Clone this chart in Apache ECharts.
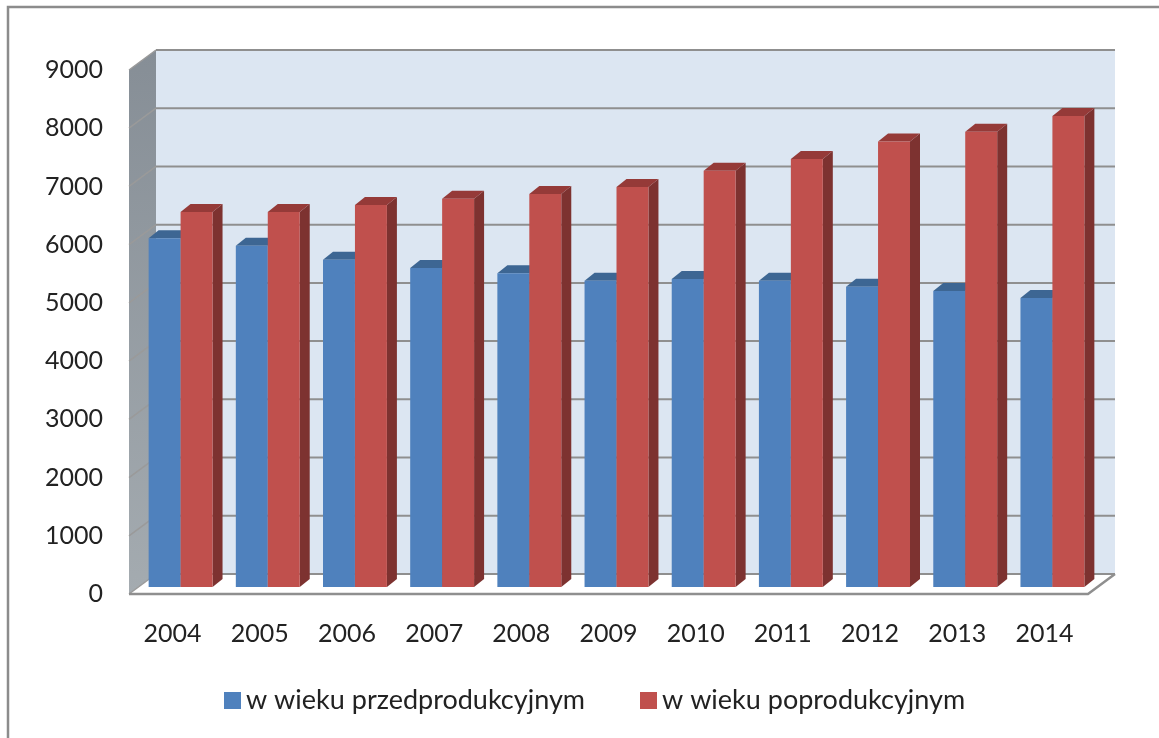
<!DOCTYPE html>
<html><head><meta charset="utf-8">
<style>html,body{margin:0;padding:0;background:#fff}#c{width:1159px;height:738px;filter:blur(0.5px)}</style>
<script src="https://cdn.jsdelivr.net/npm/echarts@6/dist/echarts.min.js"></script>
</head><body><div id="c"></div>
<script>
const categories = ['2004','2005','2006','2007','2008','2009','2010','2011','2012','2013','2014'];
const preWorking = [5990,5860,5620,5480,5390,5260,5290,5260,5155,5085,4965];
const postWorking = [6440,6440,6560,6670,6750,6870,7150,7350,7650,7820,8090];
const ticks = [0,1000,2000,3000,4000,5000,6000,7000,8000,9000];
const nameA = 'w wieku przedprodukcyjnym', nameB = 'w wieku poprodukcyjnym';

const DX = 27, DY = -20;          // wall depth
const BX = 8, BY = -7;            // bar plane depth
const SX = 10, SY = -8;           // bar own depth
const gridC = '#8f8f8f';

function wall(params, api){
  const v = api.value(0);
  const cs = params.coordSys;
  const x0 = cs.x, x1 = cs.x + cs.width;
  const y = api.coord([0, v])[1];
  const ch = [];
  if (v === 0) {
    ch.push({type:'polygon',shape:{points:[[x0+DX,cs.y+DY],[x1+DX,cs.y+DY],[x1+DX,y+DY],[x0+DX,y+DY]]},style:{fill:'#dce6f2'}});
    ch.push({type:'polygon',shape:{points:[[x0,cs.y],[x0+DX,cs.y+DY],[x0+DX,y+DY],[x0,y]]},
      style:{fill:{type:'linear',x:0,y:0,x2:0,y2:1,colorStops:[{offset:0,color:'#868e96'},{offset:1,color:'#a4abb0'}]}}});
    ch.push({type:'polygon',shape:{points:[[x0,y],[x0+DX,y+DY],[x1+DX,y+DY],[x1,y]]},style:{fill:'#ffffff'}});
  }
  ch.push({type:'line',shape:{x1:x0,y1:y,x2:x0+DX,y2:y+DY},style:{stroke:'#9a9a9a',lineWidth:1.5}});
  ch.push({type:'line',shape:{x1:x0+DX,y1:y+DY,x2:x1+DX,y2:y+DY},style:{stroke:gridC,lineWidth:2}});
  if (v === 0) {
    ch.push({type:'polyline',shape:{points:[[x0,y],[x1,y],[x1+DX,y+DY]]},style:{stroke:gridC,lineWidth:2.5,fill:null}});
  }
  return {type:'group',children:ch};
}

function bar(front, top, side, dir){
  return function(params, api){
    const c = api.coord([api.value(0), api.value(1)]);
    const base = api.coord([api.value(0), 0])[1];
    const w = api.size([1,0])[0] * 0.3665;
    const cx = c[0] + BX;
    const l = dir < 0 ? cx - w : cx, r = l + w;
    const t = c[1] + BY, b = base + BY;
    return {type:'group',children:[
      {type:'polygon',shape:{points:[[r,t],[r+SX,t+SY],[r+SX,b+SY],[r,b]]},style:{fill:side}},
      {type:'polygon',shape:{points:[[l,t],[l+SX,t+SY],[r+SX,t+SY],[r,t]]},style:{fill:top}},
      {type:'rect',shape:{x:l,y:t,width:w,height:b-t},style:{fill:front}}
    ]};
  };
}

const chart = echarts.init(document.getElementById('c'), null, {renderer:'canvas'});
chart.setOption({
  animation:false,
  backgroundColor:'#ffffff',
  textStyle:{fontFamily:'Lato'},
  graphic:[{type:'polyline',silent:true,z:100,shape:{points:[[8,738],[8,7],[1159,7]]},style:{stroke:'#8c8c8c',lineWidth:2.5,fill:null}}],
  grid:{left:129,top:70,width:959,height:524,containLabel:false},
  legend:{
    top:682,left:219,itemWidth:17,itemHeight:17,itemGap:55,
    textStyle:{fontSize:27,color:'#222',fontFamily:'Lato'},
    data:[{name:nameA,icon:'rect',itemStyle:{color:'#4f81bd'}},{name:nameB,icon:'rect',itemStyle:{color:'#c0504d'}}]
  },
  xAxis:{type:'category',data:categories,axisLine:{show:false},axisTick:{show:false},
    axisLabel:{fontSize:25,color:'#222',margin:27,fontFamily:'Lato'}},
  yAxis:{type:'value',min:0,max:9000,interval:1000,axisLine:{show:false},axisTick:{show:false},splitLine:{show:false},
    axisLabel:{fontSize:25,color:'#222',margin:26,fontFamily:'Lato',formatter:v=>String(v)}},
  series:[
    {type:'custom',name:'wall',silent:true,z:1,renderItem:wall,data:ticks.map(v=>[v]),encode:{y:0},clip:false},
    {type:'custom',name:nameA,z:2,itemStyle:{color:'#4f81bd'},renderItem:bar('#4f81bd','#3d6693','#3a5f8c',-1),
      data:preWorking.map((v,i)=>[i,v]),encode:{x:0,y:1},clip:false},
    {type:'custom',name:nameB,z:3,itemStyle:{color:'#c0504d'},renderItem:bar('#c0504d','#953a38','#7d3230',1),
      data:postWorking.map((v,i)=>[i,v]),encode:{x:0,y:1},clip:false}
  ]
});
</script></body></html>
